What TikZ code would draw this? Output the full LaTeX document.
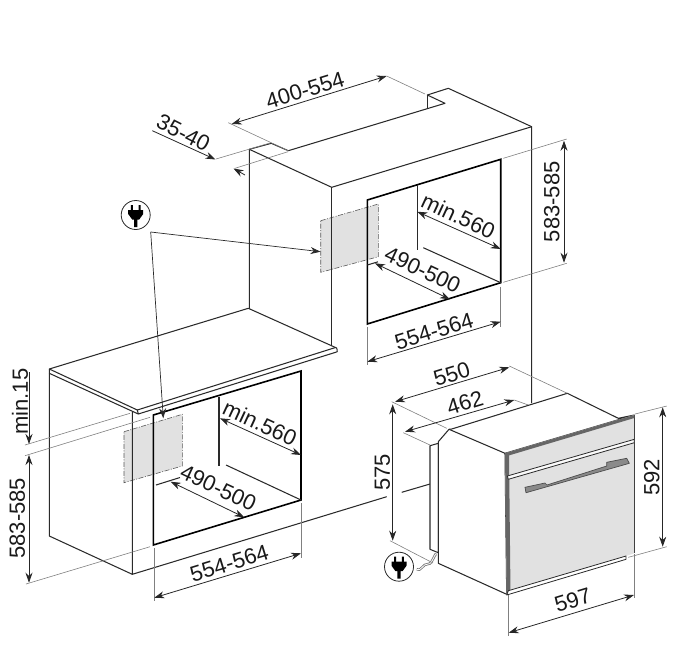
\documentclass[tikz,border=0pt]{standalone}
\usepackage{fontspec}
\setmainfont{Liberation Sans}
\usetikzlibrary{arrows.meta}
\definecolor{inkdark}{HTML}{2A2A2A}
\definecolor{panelgray}{HTML}{E1E1E1}
\definecolor{handlegray}{HTML}{8A8A8A}
\tikzstyle{body} = [draw=inkdark, line width=1.05pt, line join=round]
\tikzstyle{niche} = [draw=black, line width=1.6pt, line join=miter]
\tikzstyle{extline} = [draw=black!50, line width=0.6pt]
\tikzstyle{dimline} = [<->, draw=black!85, line width=0.8pt]
\tikzstyle{socket} = [fill=panelgray, draw=black!65, line width=0.6pt, dash pattern=on 5pt off 1.5pt on 1pt off 1.5pt]
\tikzstyle{dimtext} = [inner sep=0pt, text=black!90, font=\fontsize{22}{24}\selectfont]
\tikzstyle{plugring} = [circle, draw=inkdark, line width=0.8pt, fill=white, minimum size=29pt, inner sep=0pt]
\tikzset{plugpic/.pic={
  \fill[black] (-4.8,-10) rectangle (-2.8,-4) (2.8,-10) rectangle (4.8,-4);
  \fill[black] (-7.5,-5) -- (7.5,-5) -- (7.5,-1) -- (3.5,4.5) -- (1.6,4.5) -- (1.6,12) -- (-1.6,12) -- (-1.6,4.5) -- (-3.5,4.5) -- (-7.5,-1) -- cycle;
}}

\begin{document}
\begin{tikzpicture}[x=1pt,y=-1pt,>={Stealth[length=10pt,width=7pt]}]
  \useasboundingbox (0,0) rectangle (682,657);

  % sockets
  \path[socket] (320.7,220.7) -- (378.3,204) -- (378.3,256.7) -- (320.7,272.3) -- cycle;
  \path[socket] (124,431.7) -- (182.3,414.3) -- (182.3,466) -- (124,482.7) -- cycle;

  % upper cabinet
  \draw[body] (249.3,310) -- (249.3,149.3) -- (271.3,143.3) -- (288.3,150.7) -- (445,103.3) -- (427.3,95) -- (448.3,88.3) -- (531.7,126.7) -- (531.7,403);
  \draw[body] (427.3,95) -- (427.3,109);
  \draw[body] (249.3,149.3) -- (331.7,187.3) -- (531.7,126.7);
  \draw[body] (331.7,187.3) -- (331.7,347);

  % upper niche
  \draw[niche] (367.3,200) -- (500.7,159.3) -- (500.7,282.7) -- (367.3,324) -- cycle;
  \draw[body] (417.3,185) -- (417.3,250);
  \draw[body] (423.3,247.7) -- (500.7,282.7);
  \draw[body] (367.3,265) -- (378,261.8);

  % worktop
  \draw[body, fill=white] (49.3,369) -- (248.3,308.3) -- (335.5,347.5) to[out=30,in=-30] (336.5,352) -- (138.3,414) -- (137.3,410) -- cycle;
  \draw[body] (137.3,410) -- (335.5,347.5);
  \draw[body] (49.3,369) -- (49.3,373.3) -- (138.3,414);

  % lower cabinet
  \draw[body] (49.3,373.3) -- (49.3,536) -- (132.3,574.3) -- (132.3,412);
  \draw[body] (132.3,574.3) -- (386.7,496.7);
  \draw[body] (401.7,492.3) -- (430,484);

  % lower niche
  \draw[niche] (153.3,415) -- (301,371) -- (301,500) -- (153.3,545) -- cycle;
  \draw[body] (219,396.7) -- (219,466);
  \draw[body] (226,465) -- (301,500);
  \draw[body] (156,485) -- (180,477.5);

  % oven
  \draw[body, fill=white] (430,445.7) -- (438.3,443.3) -- (438.3,552.7) -- (430,549.3) -- cycle;
  \draw[body, fill=white] (438.3,441.7) -- (449,429.3) -- (451.7,429) -- (567.3,393.3) -- (618.3,418.3) -- (634.3,415) -- (505,453.3) -- (506.7,594.3) -- (438.3,563.3) -- cycle;
  \draw[body] (449,429.3) -- (505,453.3);
  \fill[panelgray] (505,453.3) -- (634.3,415) -- (634.3,553.3) -- (506.7,594.3) -- cycle;
  \draw[body, draw=black!75, line width=1.2pt] (634.3,415) -- (634.3,553.3);
  \fill[black!60] (505,453.3) -- (509,452.3) -- (510.5,593.5) -- (506.7,594.3) -- cycle;
  \fill[black!60] (505,453.3) -- (634.3,415) -- (634.3,418) -- (507,456) -- cycle;
  \draw[body, fill=white!85!panelgray, line width=0.8pt] (507.3,476) -- (634.3,439.3) -- (634.3,442.7) -- (508.3,479.3) -- cycle;
  \draw[body, fill=white, line width=0.8pt] (508.3,590.7) -- (626,556) -- (626,559.3) -- (506.7,595) -- cycle;
  \draw[body, draw=black!70, fill=handlegray, line width=0.7pt] (525,487.3) -- (545,483) -- (547,485) -- (606.7,466) -- (606.7,462.3) -- (626.7,458.3) -- (629.3,463.3) -- (526,492.7) -- cycle;
  \draw[draw=black!55, line width=0.8pt, double=white, double distance=0.8pt] (416.7,569.3) to[out=-40,in=170] (428,564) to[out=-10,in=110] (436.7,555);

  % extension lines
  \draw[extline] (228.3,122.7) -- (288.3,150.7);
  \draw[extline] (386.7,76) -- (425,94);
  \draw[extline] (216,159) -- (270,143);
  \draw[extline] (235,168.3) -- (288,151.7);
  \draw[extline] (503.3,158.3) -- (566.7,139);
  \draw[extline] (503.3,282.3) -- (566.7,263.3);
  \draw[extline] (367.3,326.7) -- (367.3,365);
  \draw[extline] (500.7,286.7) -- (500.7,326.7);
  \draw[extline] (25,445) -- (130,413.3);
  \draw[extline] (25,455.7) -- (150,417.3);
  \draw[extline] (26,584) -- (150,546.7);
  \draw[extline] (154,548) -- (154,601);
  \draw[extline] (301,503.3) -- (301,558);
  \draw[extline] (509.3,366) -- (567.3,393.3);
  \draw[extline] (391.7,401.7) -- (446.7,428.3);
  \draw[extline] (514.3,400) -- (528.3,405);
  \draw[extline] (403.3,432.7) -- (430,445);
  \draw[extline] (390,540.7) -- (433,563);
  \draw[extline] (635,414) -- (666.7,406);
  \draw[extline] (628.3,557.3) -- (666.7,546.7);
  \draw[extline] (508.3,595) -- (508.3,636);
  \draw[extline] (634.3,554) -- (634.3,598.3);

  % end points of the dimensions
  \coordinate (W_a) at (231.7,124);
  \coordinate (W_b) at (386.7,76);
  \coordinate (G_a) at (152.3,130.7);
  \coordinate (G_b) at (215.5,159.5);
  \coordinate (G_c) at (245,175);
  \coordinate (G_d) at (233.5,168.5);
  \coordinate (UD_a) at (417.3,211.7);
  \coordinate (UD_b) at (500.7,249);
  \coordinate (UF_a) at (375,263.3);
  \coordinate (UF_b) at (450,299.3);
  \coordinate (UW_a) at (367.3,361.7);
  \coordinate (UW_b) at (500.7,321.7);
  \coordinate (UH_a) at (564,140.7);
  \coordinate (UH_b) at (564,262.7);
  \coordinate (LD_a) at (220,418.3);
  \coordinate (LD_b) at (301,455);
  \coordinate (LF_a) at (170.7,481.7);
  \coordinate (LF_b) at (244.3,517.3);
  \coordinate (LW_a) at (154.3,597.7);
  \coordinate (LW_b) at (301,553.3);
  \coordinate (M_a) at (29,372.3);
  \coordinate (M_b) at (29,444);
  \coordinate (LH_a) at (29,455);
  \coordinate (LH_b) at (29,582.7);
  \coordinate (OD_a) at (395,401.7);
  \coordinate (OD_b) at (509.3,367.3);
  \coordinate (OC_a) at (405,431.7);
  \coordinate (OC_b) at (514.3,400);
  \coordinate (OB_a) at (392.7,404.3);
  \coordinate (OB_b) at (392.7,540.7);
  \coordinate (OH_a) at (662.7,407.3);
  \coordinate (OH_b) at (662.7,546.7);
  \coordinate (OW_a) at (508.7,632.7);
  \coordinate (OW_b) at (634,595);

  % dimensions
  \draw[dimline] (W_a) -- (W_b);
  \draw[dimline, <-] (G_b) -- (G_a);
  \draw[dimline, <-] (G_d) -- (G_c);
  \draw[dimline] (UD_a) -- (UD_b);
  \draw[dimline] (UF_a) -- (UF_b);
  \draw[dimline] (UW_a) -- (UW_b);
  \draw[dimline] (UH_a) -- (UH_b);
  \draw[dimline] (LD_a) -- (LD_b);
  \draw[dimline] (LF_a) -- (LF_b);
  \draw[dimline] (LW_a) -- (LW_b);
  \draw[dimline, <-] (M_b) -- (M_a);
  \draw[dimline] (LH_a) -- (LH_b);
  \draw[dimline] (OD_a) -- (OD_b);
  \draw[dimline] (OC_a) -- (OC_b);
  \draw[dimline] (OB_a) -- (OB_b);
  \draw[dimline] (OH_a) -- (OH_b);
  \draw[dimline] (OW_a) -- (OW_b);

  % labels
  \node[dimtext, rotate=17] (T_W) at (305,90) {400-554};
  \node[dimtext, rotate=-27] (T_G) at (183.3,133) {35-40};
  \node[dimtext, rotate=-25] (T_UD) at (458.3,215.7) {min.560};
  \node[dimtext, rotate=-25] (T_UF) at (422.7,270) {490-500};
  \node[dimtext, rotate=17] (T_UW) at (434,331) {554-564};
  \node[dimtext, rotate=90] (T_UH) at (551.7,201.7) {583-585};
  \node[dimtext, rotate=-25] (T_LD) at (260,423.3) {min.560};
  \node[dimtext, rotate=-25] (T_LF) at (218.3,487.7) {490-500};
  \node[dimtext, rotate=17] (T_LW) at (229.3,563.3) {554-564};
  \node[dimtext, rotate=90] (T_M) at (20,401.7) {min.15};
  \node[dimtext, rotate=90] (T_LH) at (17.3,518.3) {583-585};
  \node[dimtext, rotate=17] (T_OD) at (451.7,374.3) {550};
  \node[dimtext, rotate=17] (T_OC) at (465,402.7) {462};
  \node[dimtext, rotate=90] (T_OB) at (382.3,472.3) {575};
  \node[dimtext, rotate=90] (T_OH) at (651.7,477.3) {592};
  \node[dimtext, rotate=17] (T_OW) at (572.7,600) {597};

  % plugs
  \coordinate (Fork) at (150.7,232);
  \coordinate (Sock_up) at (320.5,251.7);
  \coordinate (Sock_low) at (163.3,418.3);
  \node[plugring] (Plug_A) at (135.7,215) {};
  \node[plugring] (Plug_B) at (399,566.7) {};
  \path (Plug_A.center) pic {plugpic};
  \path (Plug_B.center) pic {plugpic};
  \draw[->, draw=inkdark, line width=0.7pt] (Fork) -- (Sock_up);
  \draw[->, draw=inkdark, line width=0.7pt] (Fork) -- (Sock_low);
\end{tikzpicture}
\end{document}
